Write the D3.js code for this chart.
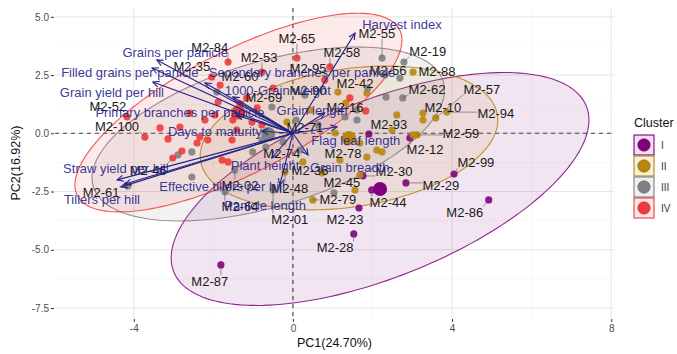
<!DOCTYPE html>
<html>
<head>
<meta charset="utf-8">
<script src="https://cdn.jsdelivr.net/npm/d3@7"></script>
<style>
  body { margin: 0; background: #ffffff; }
  text { font-family: "Liberation Sans", Arial, sans-serif; }
</style>
</head>
<body>
<svg id="chart" width="677" height="354"></svg>
<script>
// ---------- data ----------
const clusterNames = ["I", "II", "III", "IV"];

// genotype scores on PC1 / PC2, cluster membership and (optional) label anchor
const obsName = [
  "M2-87","M2-86","M2-29","M2-99","M2-44","M2-30","M2-23","M2-28","M2-12","M2-93",
  "", "M2-78","","","","","","M2-79","","M2-59","","M2-36","","","M2-42","","","M2-10","M2-57","M2-94","","","","","M2-48","","M2-88",
  "M2-55","","M2-56","M2-62","","","","","","","M2-02","","M2-64","","","","M2-45","M2-01","","M2-90","","","","","M2-74","M2-19","M2-61","M2-71",
  "M2-84","M2-35","M2-60","","M2-52","M2-100","","","","","","","","M2-46","","","","","M2-65","M2-58","M2-95","","M2-16","","","","","M2-53","","","","","","M2-69"
];
const obsCluster = [
  "I","I","I","I","I","I","I","I","I","I",
  "II","II","II","II","II","II","II","II","II","II","II","II","II","II","II","II","II","II","II","II","II","II","II","II","II","II","II",
  "III","III","III","III","III","III","III","III","III","III","III","III","III","III","III","III","III","III","III","III","III","III","III","III","III","III","III","III",
  "IV","IV","IV","IV","IV","IV","IV","IV","IV","IV","IV","IV","IV","IV","IV","IV","IV","IV","IV","IV","IV","IV","IV","IV","IV","IV","IV","IV","IV","IV","IV","IV","IV","IV"
];
const obsPC1 = [
  -1.81, 4.92, 2.84, 4.05, 1.98, 1.76, 1.66, 1.53, 2.94, 1.91,
  1.06, 1.36, 1.68, 1.86, 2.11, 2.24, 1.56, 0.50, 3.02, 3.12, 3.27, 0.25, 0.73, -0.15, 1.13, 1.86, 2.61, 3.27, 3.59, 3.87, 2.49, 1.33, 0.43, 1.18, -0.20, 1.68, 3.02,
  2.24, 2.31, 2.69, 2.76, 2.34, 1.61, 1.31, -0.53, -2.89, -2.54, -1.46, -2.54, -1.71, 1.61, -1.01, -0.25, 1.03, -0.50, -1.91, 0.30, 0.63, 1.88, -0.78, 0.18, -0.68, 2.79, -4.15, 0.08,
  -1.63, -2.04, -1.83, -1.88, -4.17, -3.72, -3.14, -2.84, -2.41, -2.34, -2.14, -1.53, -2.79, -3.02, -1.78, -1.63, -1.16, -0.90, 0.10, 0.93, 0.80, 1.43, 1.83, -0.50, -1.51, -1.03, -1.41, -0.78, -2.59, -3.34, -2.21, -0.78, -1.96, -1.33
];
const obsPC2 = [
  -5.65, -2.86, -2.13, -1.75, -2.43, -1.83, -3.21, -4.32, -0.20, -0.03,
  0.01, -0.37, -0.42, -1.02, -0.72, -0.80, -2.43, -2.86, -0.07, -0.07, 0.57, -1.23, -1.70, 0.48, 1.77, 1.73, 0.79, 0.87, 0.66, 0.91, 0.14, 1.30, 1.00, -1.15, -1.66, -1.79, 2.63,
  3.23, 2.50, 2.37, 1.52, 1.56, 1.00, 0.70, 1.13, -0.93, -0.80, -1.58, -1.88, -2.52, 0.57, -0.80, -0.37, -2.56, -2.43, 1.77, 1.64, 0.36, 1.94, -0.29, -0.72, -0.59, 3.06, -2.26, 0.57,
  3.06, 2.42, 2.07, 1.34, 0.70, -0.16, -0.24, 0.27, -0.42, -0.16, -0.29, -0.29, -0.76, -1.06, -1.15, -1.23, 1.52, 1.09, 3.23, 2.85, 2.29, 1.52, 0.96, 1.94, 0.57, 0.48, 0.14, 2.63, 0.87, 0.23, 0.57, 0.36, 0.79, 1.26
];
// label anchors (PC units) for the labelled genotypes
const labelPC1 = {
  "M2-87": -2.09, "M2-86": 4.32, "M2-29": 3.72, "M2-99": 4.60, "M2-44": 2.39, "M2-30": 2.54, "M2-23": 1.31, "M2-28": 1.06, "M2-12": 3.32, "M2-93": 2.41,
  "M2-78": 1.26, "M2-79": 1.13, "M2-59": 4.22, "M2-36": 0.43, "M2-42": 1.56, "M2-10": 3.77, "M2-57": 4.75, "M2-94": 5.10, "M2-48": -0.08, "M2-88": 3.62,
  "M2-55": 2.11, "M2-56": 2.39, "M2-62": 3.37, "M2-02": -1.33, "M2-64": -1.33, "M2-45": 1.23, "M2-01": -0.08, "M2-90": 0.38, "M2-74": -0.28, "M2-19": 3.39, "M2-61": -4.82, "M2-71": 0.30,
  "M2-84": -2.09, "M2-35": -2.54, "M2-60": -1.33, "M2-52": -4.65, "M2-100": -4.42, "M2-46": -3.64, "M2-65": 0.10, "M2-58": 1.23, "M2-95": 0.38, "M2-16": 1.31, "M2-53": -0.85, "M2-69": -0.73
};
const labelPC2 = {
  "M2-87": -6.34, "M2-86": -3.38, "M2-29": -2.22, "M2-99": -1.27, "M2-44": -2.95, "M2-30": -1.62, "M2-23": -3.68, "M2-28": -4.88, "M2-12": -0.71, "M2-93": 0.36,
  "M2-78": -0.85, "M2-79": -2.86, "M2-59": 0.01, "M2-36": -1.58, "M2-42": 2.16, "M2-10": 1.09, "M2-57": 1.90, "M2-94": 0.87, "M2-48": -2.35, "M2-88": 2.67,
  "M2-55": 4.30, "M2-56": 2.72, "M2-62": 1.90, "M2-02": -2.22, "M2-64": -3.12, "M2-45": -2.09, "M2-01": -3.68, "M2-90": 1.86, "M2-74": -0.85, "M2-19": 3.53, "M2-61": -2.52, "M2-71": 0.23,
  "M2-84": 3.70, "M2-35": 2.85, "M2-60": 2.42, "M2-52": 1.17, "M2-100": 0.31, "M2-46": -1.58, "M2-65": 4.09, "M2-58": 3.49, "M2-95": 2.80, "M2-16": 1.09, "M2-53": 3.27, "M2-69": 1.56
};

// trait loadings (arrow tips) and label anchors
const varName = [
  "Harvest index", "Grains per panicle", "Filled grains per panicle", "Grain yield per hill",
  "Secondary branches per panicle", "1000-Grain weight", "Primary branches per panicle",
  "Days to maturity", "Grain length", "Flag leaf length", "Grain breadth", "Plant height",
  "Panicle length", "Effective tillers per hill", "Straw yield per hill", "Tillers per hill"
];
const varPC1 = [1.56, -3.42, -3.54, -3.52, -2.21, -1.51, -1.41, -0.78, 0.80, 1.11, 0.38, -0.53, -0.33, -4.22, -4.42, -4.32];
const varPC2 = [4.30, 3.15, 2.80, 2.20, 2.16, 1.56, 0.78, 0.09, 0.87, 0.27, -0.93, -1.06, -2.22, -2.18, -2.00, -2.30];
const varLabelPC1 = [2.74, -2.96, -4.10, -4.55, 0.23, -0.38, -2.84, -1.96, 0.48, 1.58, 1.43, -0.70, -0.70, -1.78, -4.45, -4.80];
const varLabelPC2 = [4.69, 3.49, 2.63, 1.77, 2.63, 1.86, 0.91, 0.06, 1.00, -0.29, -1.45, -1.36, -3.08, -2.30, -1.49, -2.86];

// concentration ellipses: centre, horizontal half-width, y-offset at the widest point, vertical half-chord
const ellCx = [2.19, 1.41, -0.62, -1.37];
const ellCy = [-2.39, -0.20, -0.03, 0.89];
const ellRx = [5.25, 3.74, 4.43, 4.11];
const ellRy = [2.96, 0.77, 1.89, 3.11];
const ellHy = [4.03, 2.99, 3.22, 2.92];

const xTicks = [-4, 0, 4, 8];
const yTicks = [-7.5, -5.0, -2.5, 0.0, 2.5, 5.0];

// ---------- styling ----------
const pointColor = { I: "#800080", II: "#B8860B", III: "#808080", IV: "#F03A3A" };
const arrowColor = "#22228A";
const panel = { left: 55, right: 614, top: 8, bottom: 318 };

const svg = d3.select("#chart");
const x = d3.scaleLinear().domain([-5.98, 8.07]).range([panel.left, panel.right]);
const y = d3.scaleLinear().domain([-7.93, 5.38]).range([panel.bottom, panel.top]);

// ---------- grid ----------
const grid = svg.append("g");
const xMinor = [-6, -2, 2, 6].filter(v => x(v) >= panel.left - 0.5 && x(v) <= panel.right);
const yMinor = [-6.25, -3.75, -1.25, 1.25, 3.75];
grid.selectAll(".xminor").data(xMinor).join("line")
  .attr("x1", d => x(d)).attr("x2", d => x(d)).attr("y1", panel.top).attr("y2", panel.bottom)
  .attr("stroke", "#f3f3f3").attr("stroke-width", 0.6);
grid.selectAll(".yminor").data(yMinor).join("line")
  .attr("y1", d => y(d)).attr("y2", d => y(d)).attr("x1", panel.left).attr("x2", panel.right)
  .attr("stroke", "#f3f3f3").attr("stroke-width", 0.6);
grid.selectAll(".xmajor").data(xTicks).join("line")
  .attr("x1", d => x(d)).attr("x2", d => x(d)).attr("y1", panel.top).attr("y2", panel.bottom)
  .attr("stroke", "#e6e6e6").attr("stroke-width", 1);
grid.selectAll(".ymajor").data(yTicks).join("line")
  .attr("y1", d => y(d)).attr("y2", d => y(d)).attr("x1", panel.left).attr("x2", panel.right)
  .attr("stroke", "#e6e6e6").attr("stroke-width", 1);

// ---------- reference lines ----------
svg.append("line").attr("x1", panel.left).attr("x2", panel.right).attr("y1", y(0)).attr("y2", y(0))
  .attr("stroke", "#444").attr("stroke-width", 1.1).attr("stroke-dasharray", "4,4");
svg.append("line").attr("x1", x(0)).attr("x2", x(0)).attr("y1", panel.top).attr("y2", panel.bottom)
  .attr("stroke", "#444").attr("stroke-width", 1.1).attr("stroke-dasharray", "4,4");

// ---------- ellipses ----------
const tSteps = d3.range(0, 2 * Math.PI, Math.PI / 90);
const ellLine = d3.line().curve(d3.curveLinearClosed);
const ellG = svg.append("g");
clusterNames.forEach((c, i) => {
  const pts = tSteps.map(t => [
    x(ellCx[i] + ellRx[i] * Math.cos(t)),
    y(ellCy[i] + ellRy[i] * Math.cos(t) + ellHy[i] * Math.sin(t))
  ]);
  ellG.append("path").attr("d", ellLine(pts))
    .attr("fill", pointColor[c]).attr("fill-opacity", 0.1)
    .attr("stroke", pointColor[c]).attr("stroke-width", 1.1).attr("stroke-opacity", 0.85);
});

// ---------- points ----------
const obs = obsPC1.map((v, i) => ({ pc1: v, pc2: obsPC2[i], cl: obsCluster[i], name: obsName[i] }));
svg.append("g").selectAll("circle").data(obs).join("circle")
  .attr("cx", d => x(d.pc1)).attr("cy", d => y(d.pc2)).attr("r", 3.6)
  .attr("fill", d => pointColor[d.cl]).attr("fill-opacity", 0.9);

// cluster means drawn larger
svg.append("g").selectAll("circle").data(clusterNames).join("circle")
  .attr("cx", (c, i) => x(ellCx[i])).attr("cy", (c, i) => y(ellCy[i])).attr("r", 7)
  .attr("fill", c => pointColor[c]);

// ---------- genotype labels ----------
const labG = svg.append("g");
const segG = labG.append("g");
obs.filter(d => d.name).forEach(d => {
  const lx = x(labelPC1[d.name]), ly = y(labelPC2[d.name]);
  const t = labG.append("text").attr("x", lx).attr("y", ly).attr("dy", "0.35em")
    .attr("text-anchor", "middle").attr("font-size", 13).attr("fill", "#1a1a1a").text(d.name);
  const b = t.node().getBBox();
  const px = x(d.pc1), py = y(d.pc2);
  const cx = Math.max(b.x, Math.min(px, b.x + b.width));
  const cy = Math.max(b.y + 2, Math.min(py, b.y + b.height - 2));
  if (Math.hypot(px - cx, py - cy) > 6) {
    segG.append("line").attr("x1", px).attr("y1", py).attr("x2", cx).attr("y2", cy)
      .attr("stroke", "#555").attr("stroke-width", 0.6);
  }
});

// ---------- loading arrows ----------
const arrG = svg.append("g");
varName.forEach((n, i) => {
  const x0 = x(0), y0 = y(0), x1 = x(varPC1[i]), y1 = y(varPC2[i]);
  arrG.append("line").attr("x1", x0).attr("y1", y0).attr("x2", x1).attr("y2", y1)
    .attr("stroke", arrowColor).attr("stroke-width", 1.1);
  const ang = Math.atan2(y1 - y0, x1 - x0), L = 7, spread = Math.PI / 7;
  const head = [
    [x1 - L * Math.cos(ang - spread), y1 - L * Math.sin(ang - spread)],
    [x1, y1],
    [x1 - L * Math.cos(ang + spread), y1 - L * Math.sin(ang + spread)]
  ];
  arrG.append("path").attr("d", d3.line()(head)).attr("fill", "none")
    .attr("stroke", arrowColor).attr("stroke-width", 1.1);
});
svg.append("g").selectAll("text").data(varName).join("text")
  .attr("x", (d, i) => x(varLabelPC1[i])).attr("y", (d, i) => y(varLabelPC2[i])).attr("dy", "0.35em")
  .attr("text-anchor", "middle").attr("font-size", 13).attr("fill", arrowColor).attr("fill-opacity", 0.9)
  .text(d => d);

// ---------- axes ----------
const yAxis = svg.append("g").attr("transform", `translate(${panel.left - 1},0)`)
  .call(d3.axisLeft(y).tickValues(yTicks).tickFormat(d => d.toFixed(1)).tickSize(3).tickPadding(2));
const xAxis = svg.append("g").attr("transform", `translate(0,${panel.bottom + 1})`)
  .call(d3.axisBottom(x).tickValues(xTicks).tickFormat(d => String(d)).tickSize(3).tickPadding(3));
[xAxis, yAxis].forEach(a => {
  a.select(".domain").remove();
  a.selectAll(".tick line").attr("stroke", "#333");
  a.selectAll(".tick text").attr("fill", "#4d4d4d").attr("font-size", 10)
    .attr("font-family", "Liberation Sans, Arial, sans-serif");
});

svg.append("text").attr("x", (panel.left + panel.right) / 2).attr("y", 347)
  .attr("text-anchor", "middle").attr("font-size", 12.5).attr("fill", "#111").text("PC1(24.70%)");
svg.append("text").attr("transform", `translate(20,${(panel.top + panel.bottom) / 2}) rotate(-90)`)
  .attr("text-anchor", "middle").attr("font-size", 12.5).attr("fill", "#111").text("PC2(16.92%)");

// ---------- legend ----------
const leg = svg.append("g");
leg.append("text").attr("x", 634).attr("y", 127).attr("font-size", 12.5).attr("fill", "#111").text("Cluster");
clusterNames.forEach((c, i) => {
  const cy = 145 + i * 21;
  leg.append("rect").attr("x", 634).attr("y", cy - 10).attr("width", 20).attr("height", 20)
    .attr("fill", pointColor[c]).attr("fill-opacity", 0.12)
    .attr("stroke", pointColor[c]).attr("stroke-width", 1.1);
  leg.append("circle").attr("cx", 644).attr("cy", cy).attr("r", 6.2)
    .attr("fill", pointColor[c]).attr("stroke", d3.color(pointColor[c]).darker(0.8)).attr("stroke-width", 0.6);
  leg.append("text").attr("x", 661).attr("y", cy).attr("dy", "0.35em")
    .attr("font-size", 10).attr("fill", "#333").text(c);
});
</script>
</body>
</html>
